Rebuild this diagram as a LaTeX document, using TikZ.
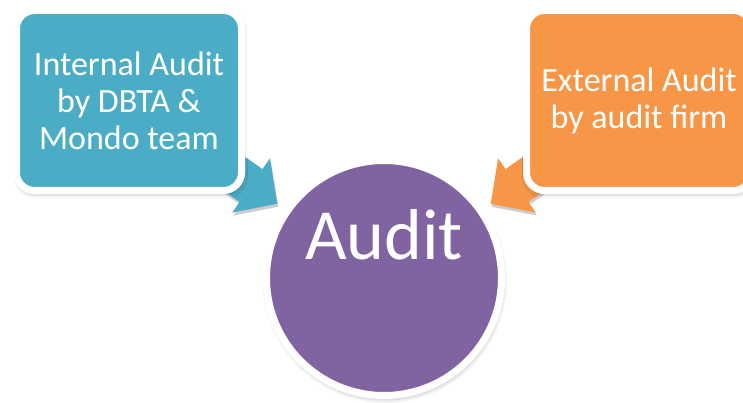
\documentclass[tikz,border=0pt]{standalone}
\usepackage{fontspec}
\setmainfont{Carlito}
\usetikzlibrary{arrows.meta,shadows.blur,backgrounds}
\definecolor{auditteal}{HTML}{4BACC6}
\definecolor{auditorange}{HTML}{F79646}
\definecolor{auditpurple}{HTML}{8064A2}

\begin{document}
\begin{tikzpicture}[x=1pt,y=-1pt]
\tikzstyle{every node}+=[inner sep=0pt]
\tikzstyle{softshadow}=[blur shadow={shadow xshift=1pt,shadow yshift=-3pt,shadow blur radius=5pt,shadow opacity=35}]
\tikzstyle{card}=[draw=white,line width=7pt,rounded corners=18pt,minimum width=225pt,minimum height=180pt,
  text=white,align=center,font=\fontsize{34}{37}\selectfont,softshadow]
\tikzstyle{fatarrow}=[line width=40pt,-{Triangle[length=32pt,width=66pt,line width=0pt]},shorten >=9pt]
\useasboundingbox (0,0) rectangle (743,403);
\clip (0,0) rectangle (743,403);
% the two sources
\node [card,fill=auditteal] (internal) at (129,100.5) {Internal Audit\\by DBTA \&\\Mondo team};
\node [card,fill=auditorange] (external) at (639,100.5) {External Audit\\by audit firm};
% the centre
\node [circle,draw=white,line width=7pt,fill=auditpurple,minimum size=235pt,softshadow] (audit) at (384,278) {};
\node [anchor=base,text=white,font=\fontsize{72}{80}\selectfont] (audittext) at (384,259) {Audit};
% arrows go behind the shapes
\begin{pgfonlayer}{background}
\draw [fatarrow,black,opacity=0.2,transform canvas={shift={(1,3)}}] (internal.center) -- (audit);
\draw [fatarrow,black,opacity=0.2,transform canvas={shift={(1,3)}}] (external.center) -- (audit);
\draw [fatarrow,auditteal] (internal.center) -- (audit);
\draw [fatarrow,auditorange] (external.center) -- (audit);
\end{pgfonlayer}
\end{tikzpicture}
\end{document}
